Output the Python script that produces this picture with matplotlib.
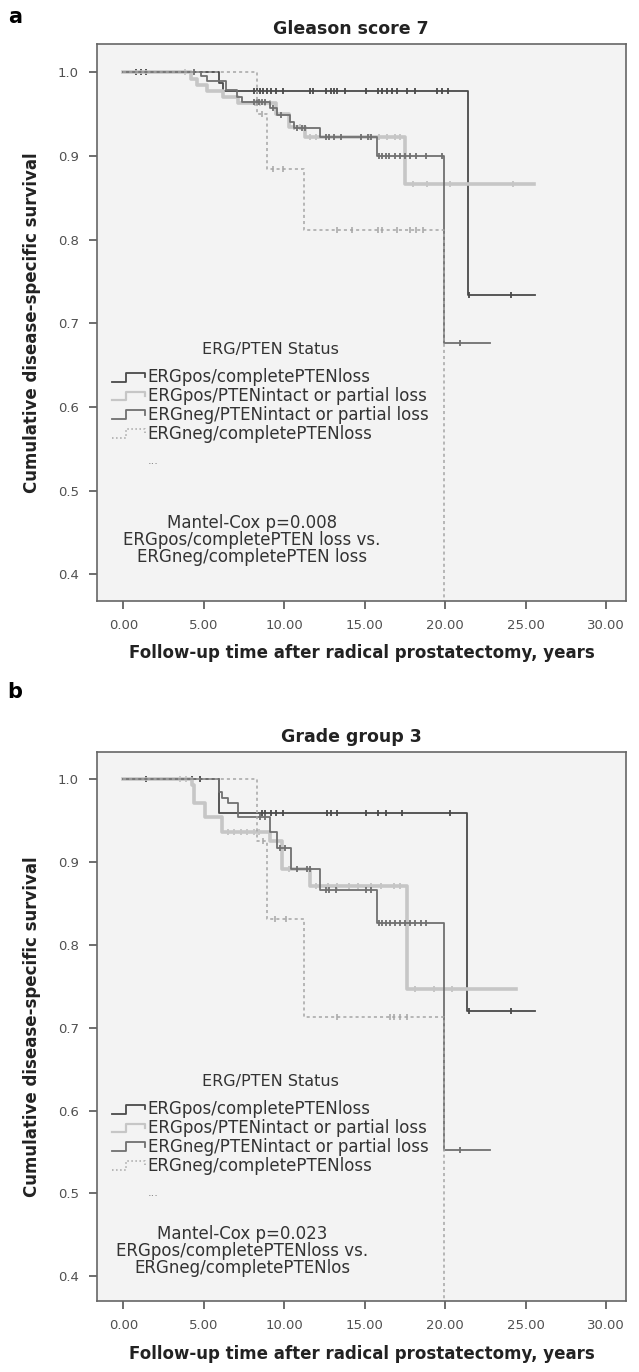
import numpy as np
import matplotlib
matplotlib.use('Agg')
import matplotlib.pyplot as plt
from matplotlib.lines import Line2D
from matplotlib.legend_handler import HandlerBase
from matplotlib.ticker import FormatStrFormatter

plt.rcParams['font.family'] = ['DejaVu Sans']

groups = ['ERGpos/completePTENloss', 'ERGpos/PTENintact or partial loss',
          'ERGneg/PTENintact or partial loss', 'ERGneg/completePTENloss']

# ---- panel a: Gleason score 7 (event times, survival after event, end of follow-up, censored times)
a_pc_t = [5.92, 6.2, 21.4]
a_pc_s = [0.987, 0.978, 0.734]
a_pc_end = 25.6
a_pc_cens = [0.8, 1.1, 1.4, 8.1, 8.3, 8.5, 8.7, 8.9, 9.2, 9.5, 9.9, 11.6, 11.8, 12.6, 12.9,
             13.1, 13.3, 13.8, 15.1, 15.8, 16.1, 16.4, 16.7, 17.0, 17.6, 18.1, 19.5, 19.8,
             20.2, 21.5, 24.1]

a_pi_t = [4.2, 4.6, 5.2, 6.2, 7.1, 9.5, 10.3, 11.3, 17.5]
a_pi_s = [0.992, 0.985, 0.978, 0.970, 0.963, 0.950, 0.935, 0.923, 0.867]
a_pi_end = 25.5
a_pi_cens = [3.8, 8.2, 8.5, 8.8, 9.1, 10.6, 11.0, 11.6, 12.0, 15.3, 15.9, 16.4, 16.9, 17.2,
             18.0, 18.9, 20.3, 24.2]

a_ni_t = [4.8, 5.2, 6.4, 7.06, 7.37, 9.13, 9.55, 10.37, 10.6, 12.2, 15.75, 19.95]
a_ni_s = [0.996, 0.990, 0.979, 0.971, 0.965, 0.957, 0.949, 0.941, 0.934, 0.923, 0.900, 0.676]
a_ni_end = 22.8
a_ni_cens = [4.4, 8.1, 8.3, 8.4, 8.6, 8.8, 9.3, 9.8, 10.8, 11.1, 11.3, 12.6, 12.8, 13.1,
             13.5, 14.8, 15.2, 15.4, 15.9, 16.1, 16.3, 16.5, 16.9, 17.2, 17.5, 17.8, 18.2,
             18.8, 19.8, 20.9]

a_nc_t = [8.3, 8.9, 11.2, 19.95]
a_nc_s = [0.950, 0.885, 0.811, 0.0]
a_nc_end = 19.95
a_nc_cens = [8.6, 9.3, 9.9, 13.3, 14.2, 15.8, 16.1, 17.0, 17.8, 18.2, 18.6]

# ---- panel b: Grade group 3
b_pc_t = [5.92, 21.35]
b_pc_s = [0.960, 0.720]
b_pc_end = 25.6
b_pc_cens = [1.4, 4.25, 4.77, 8.6, 8.8, 9.2, 9.5, 9.95, 12.65, 12.9, 13.3, 15.1, 15.8, 16.3,
             17.3, 20.3, 21.5, 24.1]

b_pi_t = [4.25, 4.4, 5.08, 6.12, 9.1, 9.85, 11.6, 17.6]
b_pi_s = [0.993, 0.971, 0.955, 0.937, 0.925, 0.892, 0.871, 0.747]
b_pi_end = 24.4
b_pi_cens = [3.5, 3.9, 6.5, 6.9, 7.3, 7.7, 8.1, 8.4, 10.3, 12.0, 12.7, 13.3, 14.0, 14.6, 15.4,
             16.0, 16.8, 17.2, 18.1, 19.3, 20.4]

b_ni_t = [5.92, 6.15, 6.53, 7.15, 9.12, 9.54, 10.4, 12.2, 15.75, 19.95]
b_ni_s = [0.985, 0.978, 0.971, 0.955, 0.937, 0.917, 0.892, 0.867, 0.827, 0.552]
b_ni_end = 22.8
b_ni_cens = [8.5, 8.8, 9.75, 10.05, 10.8, 11.4, 11.6, 12.6, 12.8, 13.2, 15.1, 15.4, 15.9,
             16.1, 16.3, 16.6, 16.9, 17.2, 17.5, 17.8, 18.1, 18.5, 18.8, 20.9]

b_nc_t = [8.3, 8.92, 11.2, 19.95]
b_nc_s = [0.925, 0.831, 0.713, 0.0]
b_nc_end = 19.95
b_nc_cens = [8.65, 9.4, 10.1, 13.3, 16.6, 16.8, 17.2, 17.6]

x_ticks = [0, 5, 10, 15, 20, 25, 30]
y_ticks = [0.4, 0.5, 0.6, 0.7, 0.8, 0.9, 1.0]

styles = [dict(color='#4a4a4a', lw=1.3, ls='-'),
          dict(color='#c6c6c6', lw=2.6, ls='-'),
          dict(color='#707070', lw=1.3, ls='-'),
          dict(color='#a6a6a6', lw=1.1, ls=(0, (2, 2)))]


class StepHandler(HandlerBase):
    def create_artists(self, legend, orig, xd, yd, w, h, fs, trans):
        x0 = -xd
        xs = [x0, x0 + 0.42 * w, x0 + 0.42 * w, x0 + w, x0 + w]
        ys = [-yd + 0.05 * h, -yd + 0.05 * h, -yd + 0.8 * h, -yd + 0.8 * h, -yd + 0.45 * h]
        ls = '-' if orig.get_linestyle() == '-' else ':'
        ln = Line2D(xs, ys, color=orig.get_color(), lw=min(orig.get_linewidth(), 1.6), ls=ls)
        ln.set_transform(trans)
        return [ln]


def km(ax, t, s, end, cens, st):
    x = np.r_[0, t, end]
    y = np.r_[1, s, s[-1]]
    line, = ax.step(x, y, where='post', color=st['color'], lw=st['lw'], ls=st['ls'])
    idx = np.searchsorted(t, cens, side='right')
    ax.plot(cens, np.r_[1, s][idx], ls='none', marker='|', ms=5,
            mew=min(st['lw'], 1.4), color=st['color'])
    return line


def panel(ax, curves, title, ylim, leg_y, dots_y, mantel, mantel_xy):
    ax.set_facecolor('#f3f3f3')
    lines = [km(ax, *c, st) for c, st in zip(curves, styles)]
    ax.set_xlim(-1.64, 31.25)
    ax.set_ylim(*ylim)
    ax.set_xticks(x_ticks)
    ax.set_yticks(y_ticks)
    ax.xaxis.set_major_formatter(FormatStrFormatter('%.2f'))
    ax.yaxis.set_major_formatter(FormatStrFormatter('%.1f'))
    ax.tick_params(direction='out', length=6, width=1.2, color='#555555',
                   labelsize=9.5, labelcolor='#505050', pad=7)
    for sp in ax.spines.values():
        sp.set_color('#666666')
        sp.set_linewidth(1.2)
    ax.set_title(title, fontsize=12.5, fontweight='bold', pad=7, x=0.48, color='#222222')
    ax.set_ylabel('Cumulative disease-specific survival', fontsize=12, fontweight='bold',
                  labelpad=12, color='#222222')
    ax.set_xlabel('Follow-up time after radical prostatectomy, years', fontsize=12,
                  fontweight='bold', labelpad=9, color='#222222')
    ax.text(0.327, leg_y + 0.033, 'ERG/PTEN Status', transform=ax.transAxes, ha='center',
            va='center', fontsize=11.5, color='#333333')
    ax.legend(handles=lines, labels=groups, loc='upper left', bbox_to_anchor=(0.028, leg_y),
              frameon=False, borderpad=0, borderaxespad=0, handlelength=2.0,
              handletextpad=0.15, labelspacing=0.05, fontsize=12, labelcolor='#333333',
              handler_map={Line2D: StepHandler()})
    ax.text(0.0964, dots_y, '...', transform=ax.transAxes, ha='left', va='center',
            fontsize=8, color='#777777')
    ax.text(mantel_xy[0], mantel_xy[1], mantel, transform=ax.transAxes, ha='center',
            va='center', fontsize=12, linespacing=0.9, color='#333333')


fig = plt.figure(figsize=(6.39, 13.72), dpi=100)
ax_a = fig.add_axes([0.1518, 0.5620, 0.828, 0.406])
ax_b = fig.add_axes([0.1518, 0.05175, 0.828, 0.4001])

panel(ax_a,
      [(a_pc_t, a_pc_s, a_pc_end, a_pc_cens), (a_pi_t, a_pi_s, a_pi_end, a_pi_cens),
       (a_ni_t, a_ni_s, a_ni_end, a_ni_cens), (a_nc_t, a_nc_s, a_nc_end, a_nc_cens)],
      'Gleason score 7', (0.368, 1.034), 0.418, 0.251,
      'Mantel-Cox p=0.008\nERGpos/completePTEN loss vs.\nERGneg/completePTEN loss',
      (0.293, 0.1095))

panel(ax_b,
      [(b_pc_t, b_pc_s, b_pc_end, b_pc_cens), (b_pi_t, b_pi_s, b_pi_end, b_pi_cens),
       (b_ni_t, b_ni_s, b_ni_end, b_ni_cens), (b_nc_t, b_nc_s, b_nc_end, b_nc_cens)],
      'Grade group 3', (0.370, 1.033), 0.366, 0.197,
      'Mantel-Cox p=0.023\nERGpos/completePTENloss vs.\nERGneg/completePTENlos',
      (0.274, 0.091))

fig.text(0.012, 0.995, 'a', fontsize=15, fontweight='bold', va='top')
fig.text(0.012, 0.503, 'b', fontsize=15, fontweight='bold', va='top')

fig.savefig('out.png', dpi=100, facecolor='white')
